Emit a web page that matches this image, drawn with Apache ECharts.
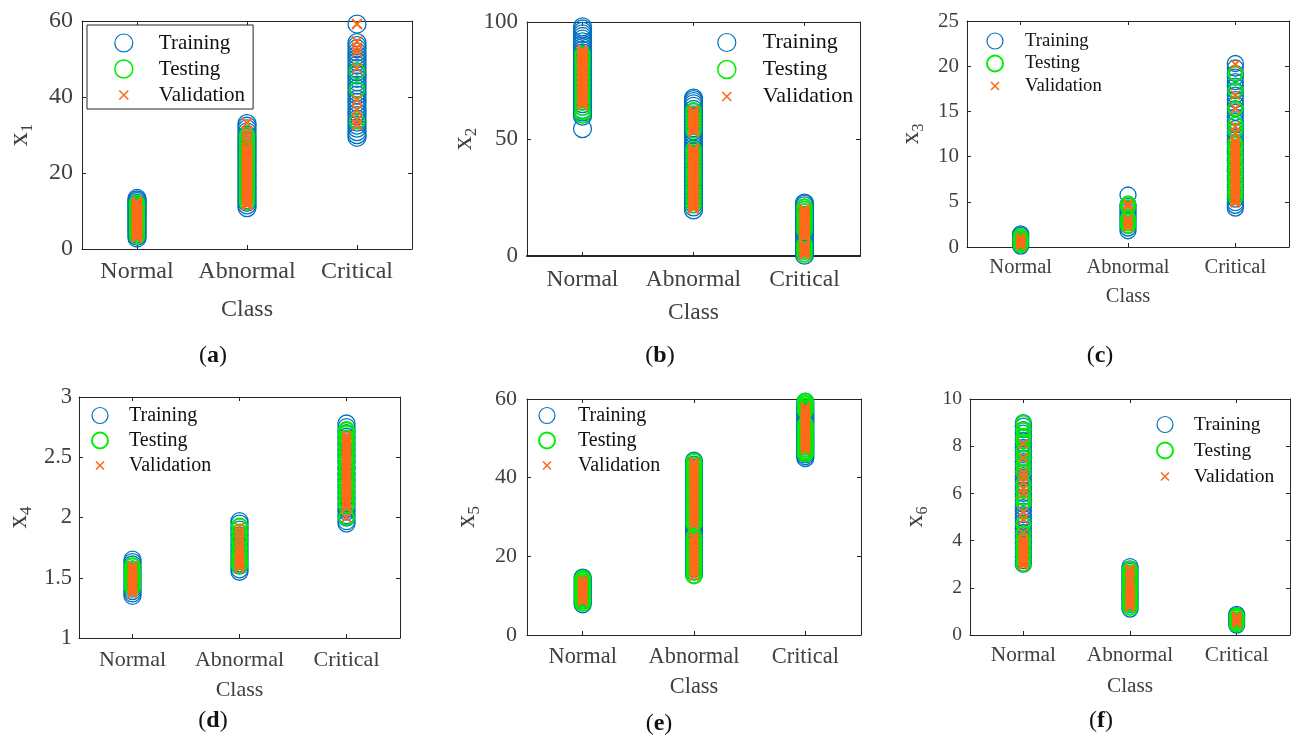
<!DOCTYPE html>
<html>
<head>
<meta charset="utf-8">
<script src="https://cdn.jsdelivr.net/npm/echarts@6/dist/echarts.min.js"></script>
<style>
html,body{margin:0;padding:0;background:#fff;}
#chart{width:1291px;height:738px;}
</style>
</head>
<body>
<div id="chart"></div>
<script>
// ---------- data ----------
const classes = ['Normal', 'Abnormal', 'Critical'];
const seriesNames = ['Training', 'Testing', 'Validation'];
const panelTags = ['a', 'b', 'c', 'd', 'e', 'f'];
const featureSubs = ['1', '2', '3', '4', '5', '6'];
const yTicks = [[0, 60, 20], [0, 100, 50], [0, 25, 5], [1, 3, 0.5], [0, 60, 20], [0, 10, 2]];

// x1
const x1Training = [
  [2.9,3.4,3.9,4.4,4.8,5.3,5.8,6.3,6.7,7.2,7.7,8.2,8.7,9.1,9.6,10.1,10.6,11.0,11.5,12.0,12.5,12.9,13.3],
  [10.9,11.6,12.3,12.9,13.6,14.3,15.0,15.7,16.3,17.0,17.7,18.4,19.1,19.7,20.4,21.1,21.8,22.5,23.1,23.8,24.5,25.2,25.9,26.5,27.2,27.9,28.6,29.3,30.0,30.8,31.6,32.3,33.0],
  [29.4,30.1,30.9,31.8,32.6,33.4,34.2,35.1,35.9,36.8,37.7,38.6,39.4,40.5,41.3,42.2,43.1,44.0,44.9,45.8,46.6,47.5,48.4,49.3,50.1,51.0,51.8,52.7,53.5,54.3,59.2]
];
const x1Testing = [
  [3.3,3.9,4.6,5.2,5.9,6.5,7.1,7.8,8.4,9.1,9.7,10.4,11.0,11.6,12.1],
  [12.3,13.2,14.0,14.9,15.8,16.7,17.6,18.5,19.4,20.3,21.2,22.1,23.0,23.9,24.8,25.7,26.6,27.5,28.3,29.2,30.0],
  [33.6,42.0,46.8]
];
const x1Validation = [
  [3.0,3.3,3.6,3.9,4.2,4.5,4.8,5.1,5.4,5.8,6.1,6.4,6.7,7.0,7.3,7.6,7.9,8.3,8.6,8.9,9.2,9.5,9.8,10.1,10.4,10.8,11.1,11.4,11.7,12.0,12.4],
  [11.5,11.9,12.4,12.8,13.3,13.7,14.2,14.6,15.1,15.5,16.0,16.4,16.9,17.3,17.8,18.2,18.7,19.1,19.6,20.0,20.5,20.9,21.4,21.8,22.3,22.7,23.2,23.6,24.1,24.5,25.0,25.4,25.9,26.3,26.8,28.4,29.7,30.9,33.2],
  [32.7,34.0,36.6,39.2,47.6,51.9,53.0,54.6,59.2]
];
// x2
const x2Training = [
  [54.4,59.8,60.7,61.6,62.7,63.9,65.1,66.3,67.5,68.7,69.9,71.1,72.3,73.5,74.7,75.9,77.1,78.3,79.5,80.7,81.9,83.1,84.3,85.5,86.7,87.9,89.1,90.3,91.5,92.7,93.8,94.9,96.0,97.0,97.9],
  [19.7,21.0,22.3,23.6,24.9,26.2,27.5,28.8,30.1,31.4,32.7,34.0,35.3,36.6,37.9,39.2,40.5,41.8,43.1,44.4,45.7,47.0,48.3,49.6,50.9,52.2,53.5,54.8,56.1,57.4,58.7,60.0,61.3,62.6,63.9,65.0,66.0,66.8,67.5],
  [0.4,1.4,2.4,3.4,4.4,5.4,6.4,7.4,8.4,9.4,10.4,11.4,12.4,13.4,14.4,15.4,16.4,17.4,18.4,19.4,20.4,21.4,22.2,22.6]
];
const x2Testing = [
  [60.2,61.5,63.4,65.5,67.7,69.9,72.1,74.3,76.4,78.6,80.8,82.9,85.0,86.3],
  [21.8,23.6,25.5,27.4,29.3,31.2,33.0,34.9,36.8,38.7,40.6,42.5,44.3,45.7,53.6,55.4,57.2,59.1,60.9,62.3],
  [0.6,1.8,3.0,4.2,5.1,10.7,12.1,13.5,14.9,16.3,17.6,19.0,20.2,21.0]
];
const x2Validation = [
  [64.6,65.3,66.1,66.8,67.6,68.3,69.1,69.8,70.6,71.3,72.1,72.8,73.6,74.3,75.1,75.8,76.6,77.3,78.1,78.8,79.6,80.3,81.1,81.8,82.6,83.3,84.1,84.8,85.6,86.3,87.1,87.8],
  [20.4,21.2,21.9,22.7,23.4,24.2,24.9,25.7,26.4,27.2,27.9,28.7,29.4,30.2,30.9,31.7,32.4,33.2,33.9,34.7,35.4,36.2,36.9,37.7,38.4,39.2,39.9,40.7,41.4,42.2,42.9,43.7,44.4,45.2,45.9,53.1,53.9,54.6,55.4,56.1,56.9,57.6,58.4,59.1,59.9,60.6,61.4,62.1],
  [0.6,1.3,2.0,2.7,3.4,4.1,4.8,8.1,8.9,9.6,10.4,11.1,11.9,12.6,13.4,14.1,14.9,15.6,16.4,17.1,17.9,18.6,19.4,20.0]
];
// x3
const x3Training = [
  [0.1,0.3,0.5,0.7,0.9,1.1,1.3,1.45],
  [1.8,2.1,2.4,2.7,3.0,3.3,3.6,3.9,4.2,4.5,4.7,5.75],
  [4.3,4.6,4.9,5.3,5.6,5.9,6.3,6.6,6.9,7.3,7.6,7.9,8.3,8.6,8.9,9.3,9.6,9.9,10.3,10.6,10.9,11.3,11.6,11.9,12.3,12.7,13.1,13.5,13.9,14.4,14.9,15.3,15.8,16.3,16.8,17.3,17.8,18.3,18.8,19.2,19.8,20.3]
];
const x3Testing = [
  [0.2,0.45,0.7,0.95,1.2],
  [2.3,2.6,2.9,3.2,4.4,4.8],
  [5.5,6.0,6.5,7.0,7.5,8.0,8.5,9.0,9.5,10.0,10.5,11.0,11.5,12.9,13.6,15.3,17.3,19.2]
];
const x3Validation = [
  [0.15,0.3,0.45,0.6,0.75,0.9,1.05],
  [2.2,2.5,2.8,3.1,4.5,4.75],
  [4.9,5.1,5.3,5.5,5.7,5.9,6.1,6.3,6.5,6.7,6.9,7.1,7.3,7.5,7.7,7.9,8.1,8.3,8.5,8.7,8.9,9.1,9.3,9.5,9.7,9.9,10.1,10.3,10.5,10.7,10.9,11.1,11.3,11.5,11.7,12.6,13.3,15.3,16.8,20.2]
];
// x4
const x4Training = [
  [1.35,1.37,1.39,1.41,1.43,1.45,1.47,1.49,1.51,1.53,1.55,1.57,1.59,1.61,1.63,1.65],
  [1.55,1.57,1.6,1.62,1.65,1.67,1.7,1.72,1.75,1.77,1.8,1.82,1.85,1.87,1.9,1.92,1.95,1.97],
  [1.95,1.97,2.0,2.02,2.05,2.07,2.1,2.12,2.15,2.17,2.2,2.22,2.25,2.27,2.3,2.32,2.35,2.37,2.4,2.42,2.45,2.47,2.5,2.52,2.55,2.57,2.6,2.62,2.65,2.67,2.7,2.72,2.75,2.78]
];
const x4Testing = [
  [1.42,1.44,1.47,1.5,1.52,1.55,1.57,1.6],
  [1.6,1.63,1.66,1.7,1.75,1.8,1.83,1.88,1.93],
  [2.0,2.1,2.14,2.18,2.22,2.26,2.3,2.34,2.38,2.42,2.46,2.5,2.54,2.58,2.62,2.66,2.7,2.73]
];
const x4Validation = [
  [1.37,1.385,1.4,1.415,1.43,1.445,1.46,1.475,1.49,1.505,1.52,1.535,1.55,1.565,1.58,1.6],
  [1.58,1.593,1.606,1.62,1.633,1.646,1.66,1.673,1.686,1.7,1.73,1.76,1.8,1.84,1.88,1.92],
  [2.0,2.08,2.1,2.12,2.14,2.16,2.18,2.2,2.22,2.24,2.26,2.28,2.3,2.32,2.34,2.36,2.38,2.4,2.42,2.44,2.46,2.48,2.5,2.52,2.54,2.56,2.58,2.6,2.62,2.64,2.66,2.68]
];
// x5
const x5Training = [
  [7.8,8.3,8.8,9.3,9.8,10.3,10.8,11.3,11.8,12.3,12.8,13.3,13.8,14.3,14.6],
  [15.3,16.1,16.9,17.7,18.5,19.3,20.1,20.9,21.7,22.5,23.3,24.1,24.9,25.7,26.5,27.3,28.1,28.9,29.7,30.5,31.3,32.1,32.9,33.7,34.5,35.3,36.1,36.9,37.7,38.5,39.3,40.1,40.9,41.7,42.5,43.3,44.3],
  [45.0,45.5,46.0,46.5,47.0,47.5,48.0,48.5,49.0,49.5,50.0,50.5,51.0,51.5,52.0,52.5,53.0,53.5,54.0,54.5,55.0,55.5,56.0,56.5,57.0,57.5,58.0,58.6,59.3]
];
const x5Testing = [
  [8.1,8.7,9.3,9.9,10.5,11.1,11.7,12.3,12.9,13.5,14.1,14.4],
  [15.0,16.0,17.0,18.0,19.0,20.0,21.0,22.0,23.0,24.0,25.0,28.2,29.2,30.2,31.2,32.2,33.2,34.2,35.2,36.2,37.2,38.2,39.2,40.2,41.2,42.2,43.2,44.2],
  [46.0,46.6,47.2,47.8,48.4,49.0,49.6,50.2,50.8,51.4,52.0,52.6,53.2,53.6,57.0,57.6,58.2,58.8,59.4]
];
const x5Validation = [
  [8.5,8.9,9.3,9.7,10.1,10.5,10.9,11.3,11.7,12.1,12.5,12.9,13.3,13.7,14.0],
  [15.0,16.0,16.6,17.2,17.8,18.4,19.0,19.6,20.2,20.8,21.4,22.0,22.6,23.2,23.8,24.4,25.0,28.0,28.6,29.2,29.8,30.4,31.0,31.6,32.2,32.8,33.4,34.0,34.6,35.2,35.8,36.4,37.0,37.6,38.2,38.8,39.4,40.0,40.6,41.2,41.8,42.4,43.0,43.6,44.0],
  [47.0,47.4,47.9,48.3,48.8,49.2,49.7,50.1,50.6,51.0,51.5,51.9,52.4,52.8,53.3,53.7,54.2,54.6,55.1,55.5,56.0,56.4,56.9,57.3,57.8,58.0]
];
// x6
const x6Training = [
  [3.0,3.15,3.3,3.45,3.6,3.75,3.9,4.05,4.2,4.35,4.5,4.65,4.8,4.95,5.1,5.25,5.4,5.55,5.7,5.85,6.0,6.15,6.3,6.45,6.6,6.75,6.9,7.05,7.2,7.35,7.5,7.65,7.8,7.95,8.1,8.25,8.4,8.55,8.7,8.85,9.0],
  [1.1,1.2,1.3,1.4,1.5,1.6,1.7,1.8,1.9,2.0,2.1,2.2,2.3,2.4,2.5,2.6,2.7,2.8,2.9],
  [0.42,0.52,0.62,0.72,0.82,0.87]
];
const x6Testing = [
  [3.0,3.2,3.4,3.6,3.8,4.0,4.3,4.7,5.6,5.8,6.1,6.4,6.9,7.2,7.5,7.8,8.2,8.4,8.7,9.0],
  [1.15,1.3,1.45,1.6,1.75,1.9,2.05,2.2,2.35,2.5,2.65,2.8],
  [0.45,0.55,0.65,0.75,0.83]
];
const x6Validation = [
  [2.95,3.02,3.09,3.16,3.23,3.3,3.37,3.44,3.51,3.58,3.65,3.72,3.79,3.86,3.93,4.05,4.3,4.9,5.2,6.0,6.2,6.5,6.7,6.9,7.5,8.1],
  [1.2,1.27,1.34,1.41,1.48,1.55,1.62,1.69,1.76,1.83,1.9,1.97,2.1,2.25,2.4,2.55,2.7,2.8],
  [0.5,0.58,0.66,0.74,0.8]
];

const trainingSets = [x1Training, x2Training, x3Training, x4Training, x5Training, x6Training];
const testingSets = [x1Testing, x2Testing, x3Testing, x4Testing, x5Testing, x6Testing];
const validationSets = [x1Validation, x2Validation, x3Validation, x4Validation, x5Validation, x6Validation];

// ---------- layout & style ----------
const FONT = '"Liberation Serif", "Times New Roman", serif';
const BLUE = '#0072BD', GREEN = '#00EE00', ORANGE = '#FF6A1A';
const AX = '#262626', TXT = '#404040';
const X_PATH = 'path://M-10,-10M30,30M0,0L20,20M20,0L0,20';

const layout = [
  {g:[82,21,330,228], tick:24, cat:24, lm:11, ng:49, yg:9, yn:46, xs:28, ss:17,
   sym:[18,15,20], tw:1.5, leg:{left:87,top:25,ic:18,gap:4,fs:21,lh:22,tp:21,pad:[7,8,3,27],box:true},
   tag:[213,356]},
  {g:[527,22,333,234], tick:23, cat:23.5, lm:12, ng:45, yg:9, yn:46, xs:28, ss:17, xw:2,
   sym:[18,15,20], tw:1.5, leg:{left:717,top:31,ic:18,gap:4,fs:22,lh:23,tp:22,pad:0,box:false},
   tag:[660,356]},
  {g:[967,21,322,226], tick:21, cat:20.5, lm:10, ng:39, yg:8, yn:40, xs:26, ss:16,
   sym:[16,14,18], tw:2, leg:{left:986,top:31,ic:16,gap:2.5,fs:18.7,lh:20,tp:17,pad:0,box:false},
   tag:[1100,356]},
  {g:[79,397,321,241], tick:22.5, cat:22, lm:11, ng:41, yg:7, yn:44, xs:27, ss:17,
   sym:[17,15,18], tw:2, leg:{left:91,top:405,ic:16,gap:4,fs:20,lh:21,tp:16,pad:0,box:false},
   tag:[213,721]},
  {g:[527,399,334,236], tick:22, cat:22.4, lm:11, ng:41, yg:10, yn:44, xs:27, ss:17,
   sym:[17,15,18], tw:2, leg:{left:538,top:405,ic:16,gap:4,fs:20,lh:21,tp:18,pad:0,box:false},
   tag:[659,724]},
  {g:[970,399,320,236], tick:19.5, cat:21.3, lm:10, ng:41, yg:8, yn:39, xs:26, ss:16,
   sym:[16,14,18], tw:2, leg:{left:1156,top:414,ic:16,gap:5,fs:19.5,lh:21,tp:16,pad:0,box:false},
   tag:[1101,721]}
];

function toPoints(sets) {
  const out = [];
  sets.forEach((vals, ci) => vals.forEach(v => out.push([ci, v])));
  return out;
}

const option = {animation:false, backgroundColor:'#fff', grid:[], xAxis:[], yAxis:[], series:[], legend:[], graphic:[]};

layout.forEach((p, i) => {
  option.grid.push({left:p.g[0], top:p.g[1], width:p.g[2], height:p.g[3], show:false});
  const tickStyle = {show:true, inside:true, length:4, lineStyle:{color:AX, width:1}};
  option.xAxis.push({
    type:'category', gridIndex:i, data:classes, position:'bottom', boundaryGap:true,
    axisLine:{show:true, onZero:false, lineStyle:{color:AX, width:p.xw || 1}},
    axisTick:Object.assign({alignWithLabel:true}, tickStyle),
    axisLabel:{fontFamily:FONT, fontSize:p.cat, lineHeight:p.cat, color:TXT, margin:p.lm, interval:0},
    splitLine:{show:false},
    name:'Class', nameLocation:'middle', nameGap:p.ng,
    nameTextStyle:{fontFamily:FONT, fontSize:p.cat, lineHeight:p.cat, color:TXT}
  });
  option.xAxis.push({
    type:'category', gridIndex:i, data:classes, position:'top', boundaryGap:true,
    axisLine:{show:true, onZero:false, lineStyle:{color:AX, width:1}},
    axisTick:Object.assign({alignWithLabel:true}, tickStyle),
    axisLabel:{show:false}, splitLine:{show:false}
  });
  const yt = yTicks[i];
  option.yAxis.push({
    type:'value', gridIndex:i, position:'left', min:yt[0], max:yt[1], interval:yt[2],
    axisLine:{show:true, onZero:false, lineStyle:{color:AX, width:1}},
    axisTick:tickStyle,
    axisLabel:{fontFamily:FONT, fontSize:p.tick, color:TXT, margin:p.yg},
    splitLine:{show:false},
    name:'{x|x}{s|' + featureSubs[i] + '}', nameLocation:'middle', nameRotate:90, nameGap:p.yn,
    nameTextStyle:{
      rich:{
        x:{fontFamily:FONT, fontSize:p.xs, lineHeight:32, color:TXT},
        s:{fontFamily:FONT, fontSize:p.ss, lineHeight:p.ss, color:TXT, verticalAlign:'bottom'}
      }
    }
  });
  option.yAxis.push({
    type:'value', gridIndex:i, position:'right', min:yt[0], max:yt[1], interval:yt[2],
    axisLine:{show:true, onZero:false, lineStyle:{color:AX, width:1}},
    axisTick:tickStyle, axisLabel:{show:false}, splitLine:{show:false}
  });

  const common = {type:'scatter', xAxisIndex:2*i, yAxisIndex:2*i, silent:true, z:2};
  option.series.push(Object.assign({}, common, {
    name:seriesNames[0], symbol:'circle', symbolSize:p.sym[0],
    itemStyle:{color:'rgba(0,0,0,0)', borderColor:BLUE, borderWidth:1.3, opacity:1},
    data:toPoints(trainingSets[i])
  }));
  option.series.push(Object.assign({}, common, {
    name:seriesNames[1], symbol:'circle', symbolSize:p.sym[1],
    itemStyle:{color:'rgba(0,0,0,0)', borderColor:GREEN, borderWidth:p.tw, opacity:1},
    data:toPoints(testingSets[i])
  }));
  option.series.push(Object.assign({}, common, {
    name:seriesNames[2], symbol:X_PATH, symbolSize:p.sym[2],
    itemStyle:{color:'rgba(0,0,0,0)', borderColor:ORANGE, borderWidth:2, opacity:1},
    data:toPoints(validationSets[i])
  }));

  const L = p.leg;
  option.legend.push({
    orient:'vertical', left:L.left, top:L.top, itemWidth:L.ic, itemHeight:L.ic, itemGap:L.gap,
    padding:L.pad, selectedMode:false,
    borderColor:L.box ? AX : 'transparent', borderWidth:L.box ? 1 : 0,
    backgroundColor:L.box ? '#fff' : 'transparent',
    textStyle:{fontFamily:FONT, fontSize:L.fs, lineHeight:L.lh, color:'#111', padding:[0,0,0,L.tp]},
    data:[
      {name:seriesNames[0], icon:'circle', itemStyle:{color:'rgba(0,0,0,0)', borderColor:BLUE, borderWidth:1.2}},
      {name:seriesNames[1], icon:'circle', itemStyle:{color:'rgba(0,0,0,0)', borderColor:GREEN, borderWidth:p.tw}},
      {name:seriesNames[2], icon:X_PATH, itemStyle:{color:'rgba(0,0,0,0)', borderColor:ORANGE, borderWidth:1.6}}
    ]
  });

  option.graphic.push({
    type:'text', x:p.tag[0], y:p.tag[1],
    style:{
      text:'{p|(}{b|' + panelTags[i] + '}{p|)}',
      align:'center', verticalAlign:'middle',
      rich:{
        p:{fontFamily:FONT, fontSize:24, fill:'#111'},
        b:{fontFamily:FONT, fontSize:24, fontWeight:'bold', fill:'#111'}
      }
    }
  });
});

const chart = echarts.init(document.getElementById('chart'), null, {renderer:'canvas'});
chart.setOption(option);
</script>
</body>
</html>
